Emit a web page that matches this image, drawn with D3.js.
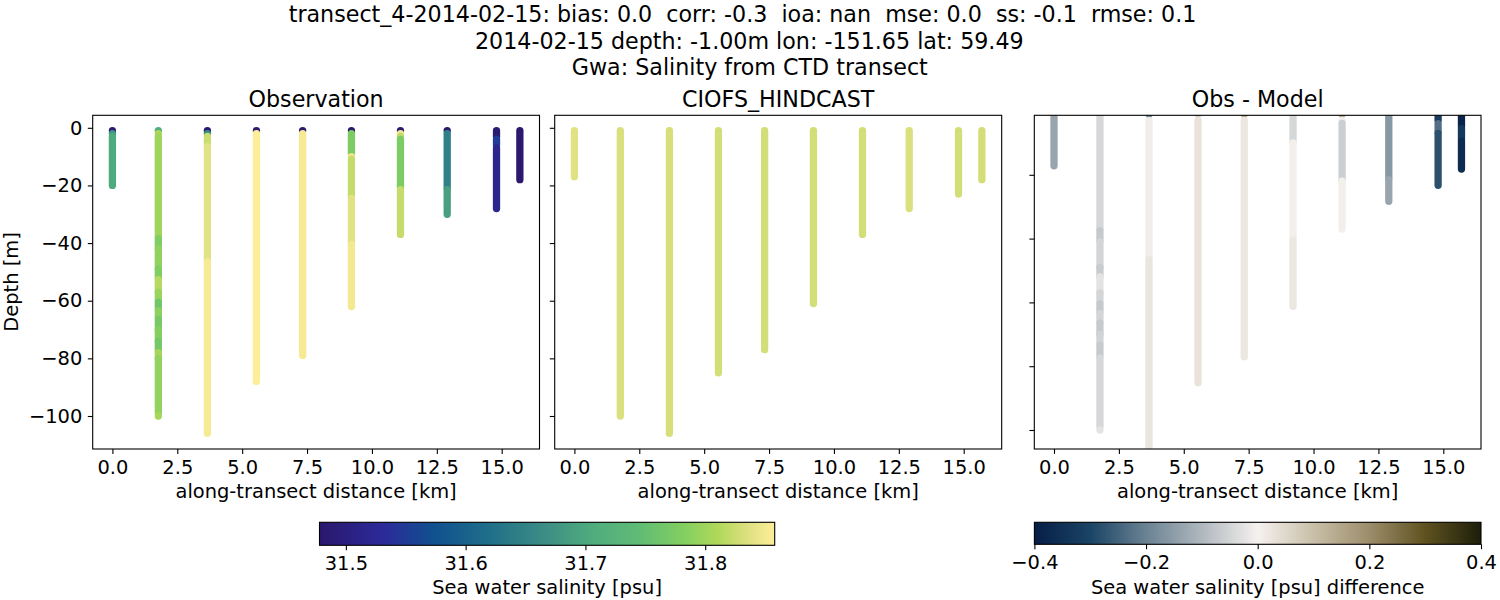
<!DOCTYPE html>
<html><head><meta charset="utf-8">
<script src="https://cdn.jsdelivr.net/npm/d3@7"></script>
<style>
html,body{margin:0;padding:0;background:#fff}
text{font-family:"DejaVu Sans";fill:#000;white-space:pre}
.domain{display:none}
.tick line{stroke:#000;stroke-width:1.1}
</style></head><body><div id="c"></div>
<script>
const titleLines = [
  "transect_4-2014-02-15: bias: 0.0  corr: -0.3  ioa: nan  mse: 0.0  ss: -0.1  rmse: 0.1",
  "2014-02-15 depth: -1.00m lon: -151.65 lat: 59.49",
  "Gwa: Salinity from CTD transect"
];
const panelTitles = ["Observation", "CIOFS_HINDCAST", "Obs - Model"];
const stationKm = [0, 1.77, 3.66, 5.55, 7.33, 9.21, 11.1, 12.9, 14.8, 15.7];
const xTicks = [0, 2.5, 5, 7.5, 10, 12.5, 15];
const yTicks = [0, -20, -40, -60, -80, -100];
const diffYTicks = [-20, -40, -60, -80, -100];
const salTicks = [31.5, 31.6, 31.7, 31.8];
const diffTicks = [-0.4, -0.2, 0, 0.2, 0.4];

// each profile: [topDepth, bottomDepth, value] segments
const obsProfiles = [
  [[1,1,31.48],[2,2,31.67],[3,20,31.705]],
  [[1,1,31.71],[2,2,31.81],[3,38,31.8],[38.5,42,31.78],[42,49,31.79],[49,52.5,31.78],[52.7,57,31.815],[57,60,31.797],[60.5,63,31.765],[63.5,66,31.788],[66.5,70,31.77],[70,74,31.783],[74,77.5,31.768],[78,80,31.805],[80,99,31.792],[100,100,31.805]],
  [[1,1,31.48],[2,2,31.66],[3,6,31.825],[6.5,46,31.838],[46.5,106,31.853]],
  [[1,1,31.48],[2,88,31.858]],
  [[1,1,31.48],[2,79,31.853]],
  [[1,1,31.48],[2,9,31.775],[10,10,31.845],[11,24,31.822],[24.5,40,31.838],[40.5,62,31.85]],
  [[1,1,31.48],[2,2,31.848],[3,3,31.82],[4,21,31.775],[21.5,37,31.822]],
  [[1,1,31.48],[2,21,31.645],[21.5,30,31.69]],
  [[1,3,31.485],[4,6,31.55],[7,28,31.515]],
  [[1,18,31.48]]
];
const modelProfiles = [
  [[1,17,31.838]],
  [[1,100,31.834]],
  [[1,106,31.832]],
  [[1,85,31.83]],
  [[1,77,31.83]],
  [[1,61,31.83]],
  [[1,37,31.83]],
  [[1,28,31.834]],
  [[1,23,31.83]],
  [[1,18,31.83]]
];
const diffProfiles = [
  [[1,17.2,-0.135]],
  [[1,37,-0.045],[37.5,40.6,-0.07],[41,49,-0.05],[49,52,-0.065],[52,57,-0.025],[57,60,-0.05],[60.5,63,-0.07],[63.5,66,-0.05],[66.5,70,-0.068],[70,73,-0.052],[73.5,77,-0.068],[77.5,99,-0.045],[100,100,-0.025]],
  [[1,1,-0.18],[3,46,0.008],[46.5,106,0.024]],
  [[1,1,0.07],[3,85.2,0.028]],
  [[1,1,0.13],[3,77,0.02]],
  [[1,1,-0.08],[2,9.6,-0.045],[10,40,0.005],[40.5,61.2,0.02]],
  [[1,1,0.13],[3,3.4,0.004],[3.9,21.7,-0.06],[22,37,0.005]],
  [[1,21,-0.16],[21.5,28.3,-0.135]],
  [[1,3,-0.32],[4,6.5,-0.23],[7,23.3,-0.28]],
  [[1,5,-0.385],[5.5,9,-0.33],[9.5,18.2,-0.365]]
];

const halineStops = ["#2a186c","#2c2a9a","#10508f","#1f6e8a","#3d8f84","#50ac7e","#5fbb76","#82cf60","#b0d85a","#dde080","#fdee99"];
const halinePos = [0,0.14,0.25,0.37,0.5,0.6,0.7,0.8,0.875,0.94,1];
const diffStops = ["#071e46","#1a4465","#6a8293","#b0b8be","#f5f1ef","#c9bfa8","#9c8d6b","#5f5220","#1c1e0a"];
const diffPos = [0,0.125,0.25,0.375,0.5,0.625,0.75,0.875,1];
const salRange = [31.478, 31.858];
const diffRange = [-0.4, 0.4];

const svg = d3.select("#c").append("svg").attr("width",1500).attr("height",600).style("display","block");
const salFrac = d3.scaleLinear().domain(salRange).range([0,1]);
const diffFrac = d3.scaleLinear().domain(diffRange).range([0,1]);
const halineMap = d3.scaleLinear().domain(halinePos).range(halineStops).clamp(true);
const diffMap = d3.scaleLinear().domain(diffPos).range(diffStops).clamp(true);
const salColor = v => halineMap(salFrac(v));
const diffColor = v => diffMap(diffFrac(v));

const FS = 19.44, TS = 22.2;
const numFmt = d => { const s = d3.format(".1f")(Math.abs(d)); return (d<0?"\u2212":"")+s; };
const panels = [
  {l:92.7,r:539.5,data:obsProfiles,col:salColor,y0:127.8,y1:416,labels:true,ticks:yTicks},
  {l:554.7,r:1001.7,data:modelProfiles,col:salColor,y0:127.8,y1:416,labels:false,ticks:yTicks},
  {l:1034.3,r:1481,data:diffProfiles,col:diffColor,y0:111,y1:430,labels:false,ticks:diffYTicks}
];
const T=115.3,B=449;
const dot = 7.3;
panels.forEach((p,i)=>{
  const x = d3.scaleLinear().domain([0,15]).range([p.l+19.7,p.l+19.7+389.3]);
  const y = d3.scaleLinear().domain([0,-100]).range([p.y0,p.y1]);
  const g = svg.append("g");
  const id = "clip"+i;
  svg.append("clipPath").attr("id",id).append("rect").attr("x",p.l).attr("y",T).attr("width",p.r-p.l).attr("height",B-T);
  const m = g.append("g").attr("clip-path",`url(#${id})`);
  p.data.forEach((prof,k)=>{
    m.selectAll(null).data(prof).enter().append("line")
      .attr("x1",x(stationKm[k])).attr("x2",x(stationKm[k]))
      .attr("y1",d=>y(-d[0])).attr("y2",d=>y(-d[1]))
      .attr("stroke",d=>p.col(d[2])).attr("stroke-width",dot).attr("stroke-linecap","round");
  });
  g.append("rect").attr("x",p.l).attr("y",T).attr("width",p.r-p.l).attr("height",B-T)
    .attr("fill","none").attr("stroke","#000").attr("stroke-width",1.1);
  g.append("g").attr("transform",`translate(0,${B})`)
    .call(d3.axisBottom(x).tickValues(xTicks).tickSize(4.9).tickPadding(6.2).tickFormat(numFmt))
    .call(a=>a.selectAll("text").style("font-size",FS+"px").style("font-family","DejaVu Sans").attr("fill","#000"));
  const ya = d3.axisLeft(y).tickValues(p.ticks).tickSize(4.9).tickPadding(5.5).tickFormat(p.labels?(d=>(d<0?"\u2212":"")+Math.abs(d)):"");
  g.append("g").attr("transform",`translate(${p.l},0)`).call(ya)
    .call(a=>a.selectAll("text").style("font-size",FS+"px").style("font-family","DejaVu Sans").attr("fill","#000"));
  g.append("text").attr("x",(p.l+p.r)/2).attr("y",107.3).attr("text-anchor","middle").style("font-size",TS+"px").text(panelTitles[i]);
  g.append("text").attr("x",(p.l+p.r)/2).attr("y",498).attr("text-anchor","middle").style("font-size",FS+"px").text("along-transect distance [km]");
});
svg.append("text").attr("transform","translate(18.3,282) rotate(-90)").attr("text-anchor","middle").style("font-size",FS+"px").text("Depth [m]");
titleLines.forEach((t,i)=>{
  svg.append("text").attr("x",[742.5,749.3,749.8][i]).attr("y",[22,49.3,75.3][i]).attr("text-anchor","middle").style("font-size",TS+"px").text(t);
});

function colorbar(id,l,r,t,b,domain,pos,stops,ticks,fmt,label){
  const grad = svg.append("linearGradient").attr("id",id);
  grad.selectAll("stop").data(pos).enter().append("stop")
    .attr("offset",d=>d).attr("stop-color",(d,i)=>stops[i]);
  svg.append("rect").attr("x",l).attr("y",t).attr("width",r-l).attr("height",b-t)
    .attr("fill",`url(#${id})`).attr("stroke","#000").attr("stroke-width",1.1);
  const s = d3.scaleLinear().domain(domain).range([l,r]);
  svg.append("g").attr("transform",`translate(0,${b})`)
    .call(d3.axisBottom(s).tickValues(ticks).tickSize(4.9).tickPadding(6.2).tickFormat(fmt))
    .call(a=>a.selectAll("text").style("font-size",FS+"px").style("font-family","DejaVu Sans").attr("fill","#000"));
  svg.append("text").attr("x",(l+r)/2).attr("y",594).attr("text-anchor","middle").style("font-size",FS+"px").text(label);
}
colorbar("gs",319.5,774.7,522.3,545.3,salRange,halinePos,halineStops,salTicks,d3.format(".1f"),"Sea water salinity [psu]");
colorbar("gd",1034.4,1481,522.3,544.3,diffRange,diffPos,diffStops,diffTicks,numFmt,"Sea water salinity [psu] difference");
</script></body></html>
